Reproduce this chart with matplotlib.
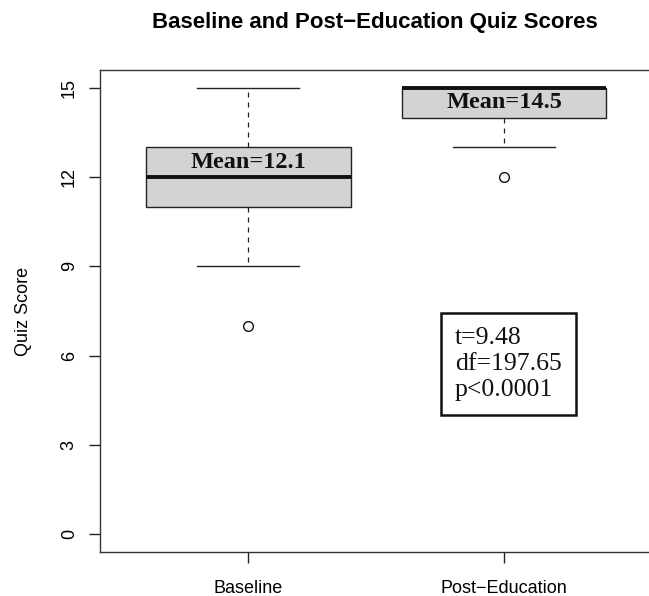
"""Boxplots of baseline vs post-education quiz scores, R base-graphics look."""

import matplotlib

matplotlib.use("Agg")
import matplotlib.pyplot as plt

# data
groups = ["Baseline", "Post\u2212Education"]
medians = [12, 15]
q1 = [11, 14]
q3 = [13, 15]
whisker_low = [9, 13]
whisker_high = [15, 15]
outliers = [[7], [12]]
means = [12.1, 14.5]
label_y = [12.5, 14.5]
stats_lines = ["t=9.48", "df=197.65", "p<0.0001"]
y_ticks = [0, 3, 6, 9, 12, 15]

SANS = ["Liberation Sans", "DejaVu Sans"]
SERIF = ["Liberation Serif", "DejaVu Serif"]

fig = plt.figure(figsize=(6.49, 5.96), dpi=100)
fig.patch.set_facecolor("white")
ax = fig.add_axes([0.1541, 0.0742, 0.851, 0.808])

stats = []
for i, name in enumerate(groups):
    stats.append({
        "label": name,
        "med": medians[i],
        "q1": q1[i],
        "q3": q3[i],
        "whislo": whisker_low[i],
        "whishi": whisker_high[i],
        "fliers": outliers[i],
    })

positions = list(range(1, len(groups) + 1))
ax.bxp(
    stats,
    positions=positions,
    widths=0.8,
    patch_artist=True,
    showfliers=True,
    boxprops={"facecolor": "#d3d3d3", "edgecolor": "#222222", "linewidth": 1.0},
    medianprops={"color": "#111111", "linewidth": 2.8, "solid_capstyle": "butt"},
    whiskerprops={"color": "#222222", "linewidth": 0.9, "linestyle": (0, (4, 4))},
    capprops={"color": "#222222", "linewidth": 1.0},
    capwidths=0.4,
    flierprops={"marker": "o", "markersize": 7, "markerfacecolor": "none",
                "markeredgecolor": "#111111", "markeredgewidth": 1.0},
)

for pos, m, y in zip(positions, means, label_y):
    ax.text(pos, y, f"Mean={m}", ha="center", va="center", fontsize=17.5,
            fontweight="bold", family=SERIF, color="#111111")

ax.text(1.808, 5.72, "\n".join(stats_lines), ha="left", va="center",
        fontsize=18.5, family=SERIF, color="#111111", linespacing=1.22,
        bbox={"boxstyle": "square,pad=0.55", "facecolor": "white",
              "edgecolor": "#111111", "linewidth": 1.8})

ax.set_xlim(0.42, 2.58)
ax.set_ylim(-0.6, 15.6)
ax.set_xticks(positions)
ax.set_xticklabels(groups, fontsize=13, family=SANS)
ax.set_yticks(y_ticks)
ax.set_yticklabels([str(t) for t in y_ticks], fontsize=13, family=SANS,
                   rotation=90, va="center")
ax.tick_params(length=8, width=1, color="#222222", pad=8)
ax.tick_params(axis="x", pad=12)
for side in ax.spines.values():
    side.set_color("#333333")
    side.set_linewidth(1.0)

ax.set_ylabel("Quiz Score", fontsize=13, family=SANS, labelpad=21)
fig.text(0.577, 0.963, "Baseline and Post\u2212Education Quiz Scores",
         ha="center", va="center", fontsize=16, fontweight="bold", family=SANS)

fig.savefig("out.png", dpi=100)
plt.close(fig)
